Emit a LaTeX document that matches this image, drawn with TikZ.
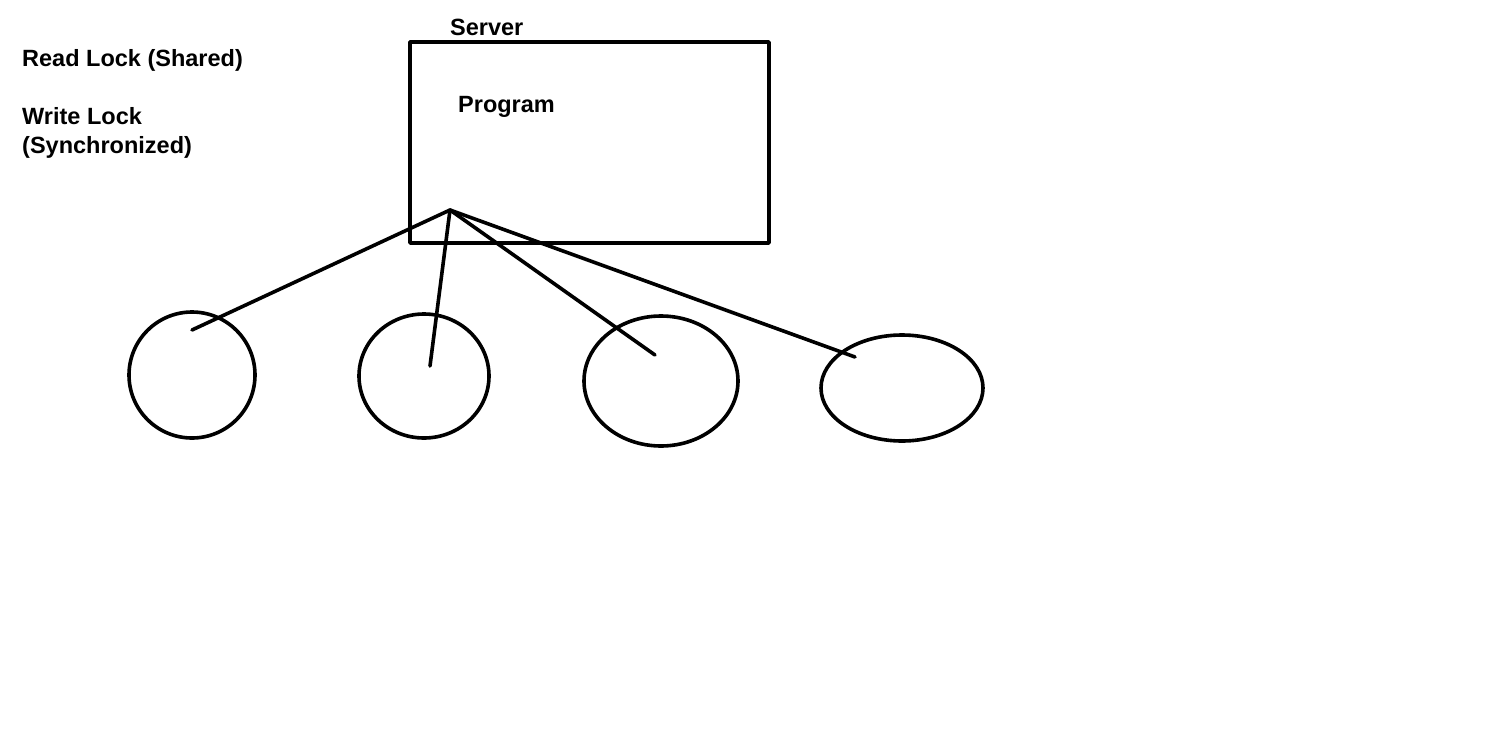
\documentclass[tikz,border=0pt]{standalone}
\usepackage{fontspec}
\setmainfont{Liberation Sans}
\begin{document}
\begin{tikzpicture}[x=1pt,y=-1pt,
  lbl/.style={inner sep=0pt,font=\fontsize{23.5}{28}\selectfont\bfseries,anchor=base west},
  ln/.style={line width=3.6pt,line cap=round,line join=round}]
\useasboundingbox[fill=white] (0,0) rectangle (1508,742);
\node[lbl] (read) at (22,66) {Read Lock (Shared)};
\node[lbl] (write) at (22,124) {Write Lock};
\node[lbl] (sync) at (22,153) {(Synchronized)};
\node[lbl] (server) at (450,35) {Server};
\draw[ln] (410,42) rectangle (769,243);
\node[lbl] (prog) at (458,112) {Program};
\coordinate (hub) at (450,210);
\draw[ln] (192,375) ellipse [x radius=63, y radius=63];
\draw[ln] (424,376) ellipse [x radius=65, y radius=62];
\draw[ln] (661,381) ellipse [x radius=77, y radius=65];
\draw[ln] (902,388) ellipse [x radius=81, y radius=53];
\coordinate (e1) at (192,330);
\coordinate (e2) at (430,366);
\coordinate (e3) at (655,355);
\coordinate (e4) at (855,357);
\draw[ln] (hub) -- (e1);
\draw[ln] (hub) -- (e2);
\draw[ln] (hub) -- (e3);
\draw[ln] (hub) -- (e4);
\end{tikzpicture}
\end{document}
